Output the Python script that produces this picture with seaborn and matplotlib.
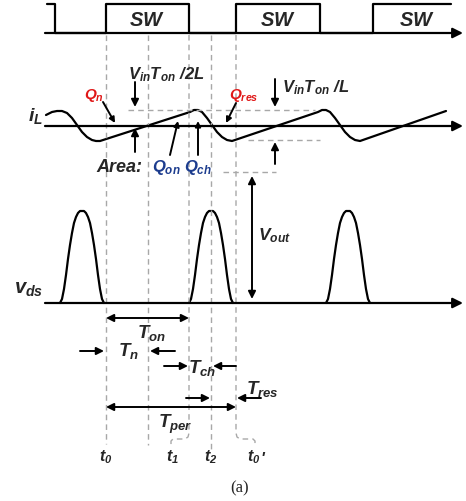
import matplotlib
matplotlib.use("Agg")
import matplotlib.pyplot as plt
import seaborn as sns
import pandas as pd

sns.set_style("white")
plt.rcParams['font.family'] = ['Liberation Sans', 'DejaVu Sans']
plt.rcParams['mathtext.fontset'] = 'custom'
plt.rcParams['mathtext.it'] = 'Liberation Sans:italic:bold'
plt.rcParams['mathtext.rm'] = 'Liberation Sans:italic:bold'
plt.rcParams['mathtext.bf'] = 'Liberation Sans:italic:bold'

# ---------------- data (pixel-space schematic coordinates) ----------------
# switching signal
sw_x = [47, 55, 55, 106, 106, 189, 189, 236, 236, 320, 320, 373, 373, 451]
sw_y = [5, 5, 34, 34, 5, 5, 34, 34, 5, 5, 34, 34, 5, 5]
sw_label_x = [147, 278, 417]

# inductor current i_L
il_x = [46, 52, 57, 62, 67, 72, 77, 82, 87, 92, 96, 100,
        190, 194, 198, 202, 207, 212, 217, 222, 227, 232,
        318, 322, 326, 330, 335, 340, 345, 350, 355, 360,
        446]
il_y = [116, 113, 112, 112, 114, 119, 126, 133, 138, 141, 142, 142,
        113, 111, 111, 113, 119, 126, 133, 138, 141, 142,
        113, 111, 111, 113, 119, 126, 133, 138, 141, 142,
        112]

# drain-source voltage pulses
vds_centers = [82, 211, 348]
pulse_dx = [-22, -20, -18, -16, -14, -12, -10, -8, -6, -4, -2, 0,
            2, 4, 6, 8, 10, 12, 14, 16, 18, 20, 22]
pulse_h = [0, 4, 14, 28, 44, 58, 70, 80, 86, 90, 92, 92,
           92, 90, 86, 80, 70, 58, 44, 28, 14, 4, 0]
vds_base = 304

# timing markers
t_names = ["$t_0$", "$t_1$", "$t_2$", "$t_0$"]
t_label_x = [106, 172, 211, 254]

axis_y = {"sw": 34, "il": 127, "vds": 304}

RED = "#e01818"
BLUE = "#1c3c8e"
GREY = "#a8a8a8"

fig = plt.figure(figsize=(4.66, 5.02), dpi=100)
ax = fig.add_axes([0, 0, 1, 1])

LW = 1.6
# waveforms
sw_df = pd.DataFrame({"x": sw_x, "y": sw_y})
sns.lineplot(data=sw_df, x="x", y="y", sort=False, estimator=None, ax=ax,
             color="black", lw=LW)
il_df = pd.DataFrame({"x": il_x, "y": il_y})
sns.lineplot(data=il_df, x="x", y="y", sort=False, estimator=None, ax=ax,
             color="black", lw=LW)
rows = []
for k, c in enumerate(vds_centers):
    for dx, h in zip(pulse_dx, pulse_h):
        rows.append({"x": c + dx, "y": vds_base - h, "p": k})
vds_df = pd.DataFrame(rows)
sns.lineplot(data=vds_df, x="x", y="y", units="p", sort=False, estimator=None,
             ax=ax, color="black", lw=LW)
ax.set_xlim(0, 466)
ax.set_ylim(502, 0)
ax.axis('off')

# axes with arrows
for y in axis_y.values():
    ax.annotate("", xy=(463, y), xytext=(45, y),
                arrowprops=dict(arrowstyle='-|>', color='black', lw=LW,
                                mutation_scale=15, shrinkA=0, shrinkB=0))

# dashed time markers
dash = dict(color=GREY, lw=1.0, ls=(0, (4, 3)))
ax.plot([106, 106], [36, 445], **dash)
ax.plot([148, 148], [36, 446], **dash)
ax.plot([211, 211], [36, 450], **dash)
ax.plot([189, 189, 188, 185, 173, 171, 171], [36, 434, 438, 440, 440, 442, 448], **dash)
ax.plot([236, 236, 237, 240, 253, 255, 255], [36, 434, 438, 440, 440, 442, 448], **dash)
# horizontal dashed references
ax.plot([128, 315], [111, 111], **dash)
ax.plot([248, 320], [141, 141], **dash)
ax.plot([223, 276], [173, 173], **dash)

def arrow(x0, y0, x1, y1, both=False, ms=11, lw=1.4):
    ax.annotate("", xy=(x1, y1), xytext=(x0, y0),
                arrowprops=dict(arrowstyle='<|-|>' if both else '-|>',
                                color='black', lw=lw, mutation_scale=ms,
                                shrinkA=0, shrinkB=0))

# annotation arrows
arrow(135, 83, 135, 108)
arrow(275, 80, 275, 108)
arrow(135, 153, 135, 129)
arrow(170, 156, 178, 122, ms=8)
arrow(198, 156, 198, 122, ms=8)
arrow(103, 103, 115, 124, ms=8)
arrow(236, 104, 226, 124, ms=8)
arrow(275, 165, 275, 143)
arrow(252, 177, 252, 300, both=True)

# time span arrows
arrow(106, 319, 189, 319, both=True)
arrow(80, 352, 104, 352)
arrow(175, 352, 150, 352)
arrow(164, 367, 188, 367)
arrow(236, 367, 213, 367)
arrow(186, 399, 210, 399)
arrow(261, 399, 237, 399)
arrow(106, 408, 236, 408, both=True)

# texts
for x in sw_label_x:
    ax.text(x, 21, "$SW$", ha='center', va='center', fontsize=14.5)
ax.text(35, 116, "$i_L$", ha='center', va='center', fontsize=14)
ax.text(29, 290, "$v_{ds}$", ha='center', va='center', fontsize=14.5)
ax.text(166, 75, r"$V_{in}T_{on}\ /2L$", ha='center', va='center', fontsize=12)
ax.text(316, 88, r"$V_{in}T_{on}\ /L$", ha='center', va='center', fontsize=12)
ax.text(94, 95, "$Q_{n}$", ha='center', va='center', fontsize=11, color=RED)
ax.text(244, 95, "$Q_{res}$", ha='center', va='center', fontsize=11, color=RED)
ax.text(119, 168, "Area:", ha='center', va='center', fontsize=13,
        fontweight='bold', fontstyle='italic')
ax.text(166, 168, "$Q_{on}$", ha='center', va='center', fontsize=12, color=BLUE)
ax.text(198, 168, "$Q_{ch}$", ha='center', va='center', fontsize=12, color=BLUE)
ax.text(274, 236, "$V_{out}$", ha='center', va='center', fontsize=12.5)
ax.text(151, 333, "$T_{on}$", ha='center', va='center', fontsize=13.5)
ax.text(128, 351, "$T_{n}$", ha='center', va='center', fontsize=13.5)
ax.text(202, 368, "$T_{ch}$", ha='center', va='center', fontsize=13.5)
ax.text(262, 389, "$T_{res}$", ha='center', va='center', fontsize=13.5)
ax.text(175, 424, "$T_{per}$", ha='center', va='center', fontsize=13.5)
for x, s in zip(t_label_x, t_names):
    ax.text(x, 457, s, ha='center', va='center', fontsize=11.5)
ax.text(262, 460, "'", ha='center', va='center', fontsize=11.5,
        fontweight='bold', fontstyle='italic')
ax.text(240, 488, "(a)", ha='center', va='center', fontsize=12,
        family=['Liberation Serif', 'DejaVu Serif'])

fig.savefig("out.png", dpi=100)
